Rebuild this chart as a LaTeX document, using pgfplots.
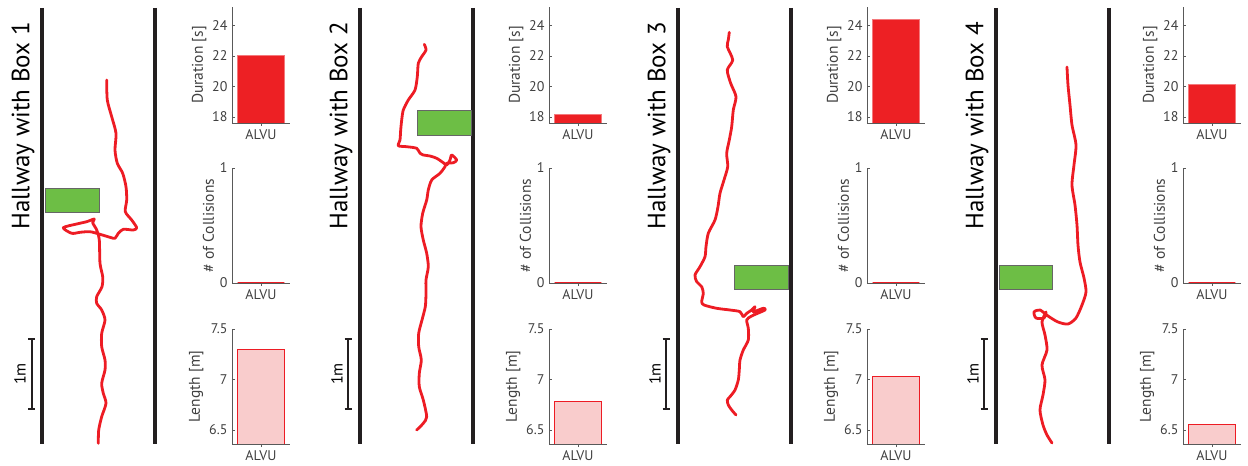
\documentclass[border=0pt]{standalone}
\usepackage{pgfplots}
\pgfplotsset{compat=1.18}
\usepackage{fontspec}
\setmainfont{PT Sans}
\definecolor{tred}{RGB}{237,28,36}
\definecolor{bred}{RGB}{237,32,36}
\definecolor{lpink}{RGB}{249,204,204}
\definecolor{bgreen}{RGB}{109,190,69}
\definecolor{wall}{RGB}{35,31,32}
\newcommand{\tkfont}{\fontsize{14bp}{16bp}\selectfont}
\newcommand{\lbfont}{\fontsize{15.5bp}{18bp}\selectfont}
\pgfplotsset{
  barax/.style={scale only axis, width=58bp,
    axis x line*=bottom, axis y line*=left,
    axis line style={draw=black!65, line width=0.6bp, -},
    xmin=-0.6, xmax=0.6, xtick={0}, xticklabels={ALVU},
    tick align=inside, major tick length=3bp,
    tick style={black!65, line width=0.5bp},
    xticklabel style={font=\tkfont, text=black!75},
    yticklabel style={font=\tkfont, text=black!75, xshift=-1bp},
    ylabel style={font=\lbfont, text=black!75, yshift=-1bp},
    /pgf/number format/assume math mode=true,
    ybar, bar width=0.97}
}
\tikzset{
  traj/.style={tred, line width=2.8bp, smooth, tension=0.45, line join=round, line cap=round},
  box/.style={fill=bgreen, draw=black!60, line width=0.7bp},
  wallst/.style={wall, line width=4.5bp},
  sc/.style={wall, line width=1.6bp},
  hl/.style={rotate=90, font=\fontsize{25bp}{30bp}\selectfont, text=black},
  ml/.style={rotate=90, font=\fontsize{16bp}{18bp}\selectfont, text=black}
}
\newcommand{\barpanels}[3]{%
  \begin{axis}[barax, at={(#1bp,343bp)}, anchor=south west, height=116bp,
    ymin=17.6, ymax=25.2, ytick={18,20,22,24}, ylabel={Duration [s]}]
    \addplot[fill=bred, draw=bred!60!white, line width=0.5bp] coordinates {(0,#2)};
  \end{axis}
  \begin{axis}[barax, at={(#1bp,183bp)}, anchor=south west, height=115bp,
    ymin=0, ymax=1, ytick={0,1}, ylabel={\# of Collisions}]
    \addplot[fill=bred, draw=tred, line width=1.2bp] coordinates {(0,0)};
  \end{axis}
  \begin{axis}[barax, at={(#1bp,22bp)}, anchor=south west, height=115bp,
    ymin=6.36, ymax=7.5, ytick={6.5,7,7.5}, ylabel={Length [m]}]
    \addplot[fill=lpink, draw=tred, line width=1bp] coordinates {(0,#3)};
  \end{axis}
}
\newcommand{\scalebar}[3]{% x, x-3.5, x+3.5
  \addplot[sc] coordinates {(#1,339) (#1,409)};
  \addplot[sc] coordinates {(#2,339) (#3,339)};
  \addplot[sc] coordinates {(#2,409) (#3,409)};
}
\newcommand{\wallpair}[2]{%
  \addplot[wallst] coordinates {(#1,8) (#1,444)};
  \addplot[wallst] coordinates {(#2,8) (#2,444)};
}
\begin{document}
\begin{tikzpicture}
\useasboundingbox (0,0) rectangle (1248bp,466bp);
\begin{axis}[at={(0,0)}, anchor=south west, scale only axis, width=1248bp, height=466bp,
  xmin=0, xmax=1248, ymin=0, ymax=466, y dir=reverse, hide axis, clip=false]
% walls
\wallpair{42}{155}
\wallpair{360}{473}
\wallpair{678}{791}
\wallpair{996}{1109}
% boxes
\addplot[box] coordinates {(45,188) (99,188) (99,212) (45,212)} -- cycle;
\addplot[box] coordinates {(417,110) (471,110) (471,135) (417,135)} -- cycle;
\addplot[box] coordinates {(734,265) (788,265) (788,289) (734,289)} -- cycle;
\addplot[box] coordinates {(999,265) (1052,265) (1052,289) (999,289)} -- cycle;
% scale bars
\scalebar{31.7}{28.2}{35.2}
\scalebar{348}{344.5}{351.5}
\scalebar{666}{662.5}{669.5}
\scalebar{984}{980.5}{987.5}
% trajectories
\addplot[traj] coordinates {(106.7,80) (107.3,100) (111.7,116.7) (116,133.3) (115,150) (117.3,163.3) (122.7,173.3) (126,186.7) (126.7,200) (125.3,211.7) (131.7,220) (136.7,227.7) (133.3,230) (123.3,229.3) (118.3,233.3) (115,238.3) (110,237.3) (100,234.3) (90,231.7) (80,232.3) (71.7,233.3) (63.3,227.7) (76.7,224) (86.7,221.7) (94.3,219) (92.7,222.7) (96.7,230) (99.3,240) (100,263.3) (102.7,276.7) (102,286.7) (96.7,296.7) (96.7,303.3) (101.7,310) (105,320) (101.7,333.3) (101.7,346.7) (105,360) (105,370) (101.7,383.3) (103.3,393.3) (106,403.3) (101.7,416.7) (98.7,430) (98.3,443.3)};
\addplot[traj] coordinates {(424.3,44.3) (426,50) (421.7,56.7) (418.3,63.3) (417.3,76.7) (415,90) (408.3,100) (403.3,110) (401.7,120) (400.7,130) (400,140) (398.3,145.7) (406.7,146.7) (416.7,148.3) (420,153.3) (423.3,155) (430,156) (436.7,158.3) (443.3,162.7) (446.7,165) (450,160) (451.7,155) (456.7,160) (453.3,162.7) (446.7,163.3) (445,166.7) (440,173.3) (431.7,180) (428.3,190) (426.7,200) (422.7,213.3) (421,226.7) (423.3,240) (426.7,253.3) (428.3,266.7) (426,280) (426,293.3) (425.3,306.7) (422,320) (418.7,333.3) (418.7,346.7) (421.3,360) (419.3,373.3) (419.3,386.7) (423.3,400) (426.7,416.7) (423.3,423.3) (416.7,430)};
\addplot[traj] coordinates {(729.3,32.3) (728.3,40) (727.3,46.7) (732.7,60) (727.3,70) (730.7,83.3) (736,96.7) (733.3,110) (731.7,126.7) (729.3,140) (726.7,153.3) (727.7,166.7) (724,180) (720,193.3) (718,206.7) (715,220) (708.3,233.3) (706,246.7) (705,256.7) (700,266.7) (695,275) (696.7,281.7) (701.7,286.7) (703.3,293.3) (701.7,301.7) (704,305) (716.7,308.3) (730,310) (740,311.7) (743.3,316.7) (746.7,313.3) (751.7,310) (755,306.7) (753.3,311.7) (763.3,308.3) (765,310) (751.7,316) (746.7,320) (748.3,328.3) (748.3,340) (743.3,350) (740,360) (739.3,370) (738.3,380) (735,390) (730,396.7) (727.3,400) (728.3,405) (731.7,410) (736,415)};
\addplot[traj] coordinates {(1067,67) (1068,85) (1070,105) (1072,125) (1076,145) (1074,165) (1072,185) (1075,205) (1077,225) (1078,245) (1080,262) (1084,278) (1086,292) (1082,305) (1076,318) (1068,324) (1058,322) (1048,316) (1040,310) (1034,312) (1036,318) (1044,318) (1046,312) (1042,322) (1045,335) (1047,350) (1042,365) (1045,380) (1043,395) (1040,410) (1043,425) (1047,435) (1052,443)};
% labels
\node[hl] at (axis cs:23,126) {Hallway with Box 1};
\node[hl] at (axis cs:341,126) {Hallway with Box 2};
\node[hl] at (axis cs:659,126) {Hallway with Box 3};
\node[hl] at (axis cs:977,126) {Hallway with Box 4};
\node[ml] at (axis cs:20,374) {1m};
\node[ml] at (axis cs:337,374) {1m};
\node[ml] at (axis cs:655,374) {1m};
\node[ml] at (axis cs:973,374) {1m};
\end{axis}
\barpanels{232}{22.05}{7.30}
\barpanels{549}{18.15}{6.78}
\barpanels{867}{24.4}{7.03}
\barpanels{1183}{20.13}{6.55}
\end{tikzpicture}
\end{document}
